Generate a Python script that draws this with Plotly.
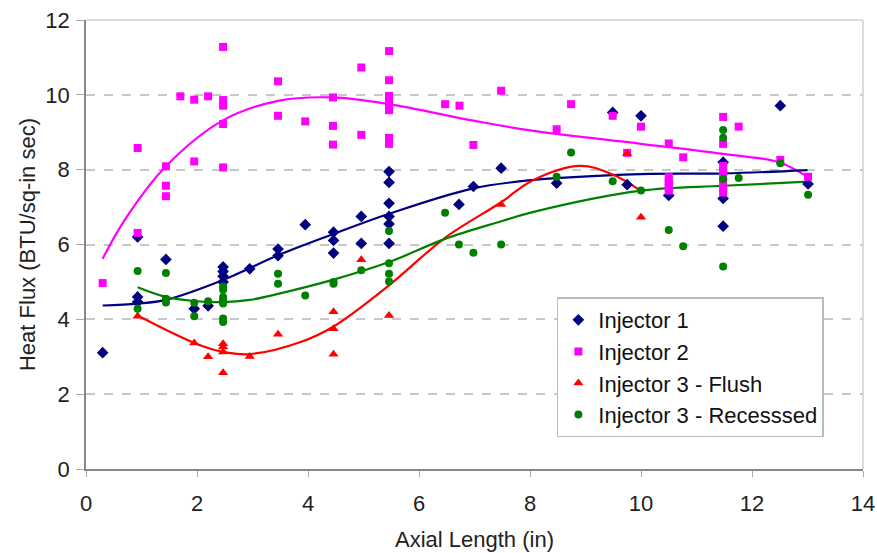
import plotly.graph_objects as go

# ---------------- data ----------------
inj1_x = [0.3, 0.93, 0.93, 0.93, 1.44, 1.95, 2.2, 2.47, 2.47, 2.47, 2.47, 2.95, 3.46, 3.46,
          3.95, 4.46, 4.46, 4.46, 4.96, 4.96, 5.46, 5.46, 5.46, 5.46, 5.46, 5.46,
          6.72, 6.98, 7.48, 8.48, 9.49, 9.75, 10.0, 10.5, 11.48, 11.48, 11.48, 12.51, 13.01]
inj1_y = [3.11, 6.2, 4.6, 4.46, 5.6, 4.28, 4.36, 5.4, 5.28, 5.15, 5.0, 5.35, 5.88, 5.7,
          6.53, 6.33, 6.11, 5.77, 6.75, 6.03, 7.95, 7.66, 7.1, 6.75, 6.55, 6.03,
          7.07, 7.55, 8.04, 7.64, 9.53, 7.6, 9.44, 7.31, 8.2, 7.23, 6.49, 9.71, 7.62]

inj2_x = [0.3, 0.93, 0.93, 1.44, 1.44, 1.44, 1.70, 1.95, 1.95, 2.2,
          2.47, 2.47, 2.47, 2.47, 2.47, 3.46, 3.46, 3.95, 4.45, 4.45, 4.45, 4.96, 4.96,
          5.46, 5.46, 5.46, 5.46, 5.46, 5.46, 5.46, 5.46,
          6.47, 6.73, 6.98, 7.48, 8.48, 8.74, 9.49, 9.75, 10.0,
          10.5, 10.5, 10.5, 10.5, 10.5, 10.5, 10.76,
          11.48, 11.48, 11.48, 11.48, 11.48, 11.48, 11.48, 11.48, 11.76, 12.51, 13.01]
inj2_y = [4.97, 8.58, 6.31, 8.09, 7.57, 7.29, 9.96, 9.87, 8.22, 9.96,
          11.28, 9.86, 9.71, 9.22, 8.06, 10.36, 9.44, 9.29, 9.93, 9.17, 8.67, 10.73, 8.93,
          11.17, 10.39, 9.97, 9.84, 9.71, 9.59, 8.85, 8.69,
          9.75, 9.71, 8.66, 10.11, 9.08, 9.75, 9.44, 8.45, 9.15,
          8.70, 7.8, 7.7, 7.6, 7.5, 7.44, 8.33,
          9.41, 8.69, 8.1, 7.95, 7.8, 7.65, 7.5, 7.39, 9.15, 8.26, 7.81]

inj3f_x = [0.93, 1.95, 2.2, 2.47, 2.47, 2.47, 2.47, 2.95, 3.46, 4.46, 4.46, 4.46,
           4.96, 5.46, 7.48, 9.75, 10.0]
inj3f_y = [4.08, 3.37, 3.0, 3.35, 3.26, 3.13, 2.57, 3.01, 3.6, 4.2, 3.75, 3.07,
           5.59, 4.1, 7.07, 8.43, 6.73]

inj3r_x = [0.93, 0.93, 1.44, 1.44, 1.44, 1.95, 1.95, 2.2,
           2.47, 2.47, 2.47, 2.47, 2.47, 2.47, 2.47, 3.46, 3.46, 3.95, 4.46, 4.46, 4.96,
           5.46, 5.46, 5.46, 5.46, 6.47, 6.72, 6.98, 7.48, 8.48, 8.74, 9.49, 10.0,
           10.5, 10.76, 11.48, 11.48, 11.48, 11.48, 11.76, 12.51, 13.01]
inj3r_y = [5.29, 4.28, 5.24, 4.55, 4.45, 4.44, 4.08, 4.48,
           4.88, 4.79, 4.6, 4.51, 4.42, 4.02, 3.93, 5.22, 4.95, 4.64, 4.95, 5.0, 5.31,
           6.36, 5.5, 5.22, 5.01, 6.85, 6.0, 5.78, 6.0, 7.81, 8.46, 7.69, 7.44,
           6.39, 5.95, 9.06, 8.85, 7.75, 5.41, 7.78, 8.17, 7.33]

# trend lines
trend1_x = [0.3, 0.93, 1.44, 2.47, 3.46, 4.46, 5.46, 6.98, 8.03, 10.0, 11.5, 13.0]
trend1_y = [4.37, 4.42, 4.52, 5.05, 5.71, 6.28, 6.82, 7.5, 7.72, 7.88, 7.9, 7.99]

trend2_x = [0.3, 0.69, 1.44, 2.46, 3.46, 4.45, 5.46, 6.98, 8.0, 10.0, 11.48, 12.48, 13.01]
trend2_y = [5.62, 6.64, 8.09, 9.31, 9.84, 9.93, 9.75, 9.31, 9.05, 8.69, 8.42, 8.2, 7.8]

trend3_x = [0.93, 1.95, 2.47, 2.95, 3.88, 4.46, 5.46, 6.47, 7.48, 8.03, 8.9, 9.49, 10.0]
trend3_y = [4.1, 3.37, 3.13, 3.07, 3.4, 3.81, 4.91, 6.18, 7.13, 7.7, 8.1, 7.87, 7.43]

trend4_x = [0.93, 1.44, 1.95, 2.47, 2.95, 3.46, 4.46, 5.46, 6.47, 7.48, 8.03, 10.0, 11.48, 13.01]
trend4_y = [4.86, 4.6, 4.49, 4.46, 4.52, 4.68, 5.06, 5.53, 6.15, 6.62, 6.86, 7.44, 7.57, 7.68]

x_ticks = [0, 2, 4, 6, 8, 10, 12, 14]
y_ticks = [0, 2, 4, 6, 8, 10, 12]

# ---------------- figure ----------------
NAVY = "#000080"
MAG = "#FF00FF"
RED = "#FF0000"
GRN = "#008000"
FONT = "Liberation Sans, Arial, sans-serif"

fig = go.Figure()

for tx, ty, col in [(trend2_x, trend2_y, MAG), (trend1_x, trend1_y, NAVY),
                    (trend3_x, trend3_y, RED), (trend4_x, trend4_y, GRN)]:
    fig.add_trace(go.Scatter(x=tx, y=ty, mode="lines", showlegend=False, hoverinfo="skip",
                             line=dict(color=col, width=2.2, shape="spline", smoothing=1.0)))

fig.add_trace(go.Scatter(x=inj1_x, y=inj1_y, mode="markers", name="Injector 1",
                         marker=dict(symbol="diamond", size=9, color=NAVY)))
fig.add_trace(go.Scatter(x=inj2_x, y=inj2_y, mode="markers", name="Injector 2",
                         marker=dict(symbol="square", size=8, color=MAG)))
fig.add_trace(go.Scatter(x=inj3f_x, y=inj3f_y, mode="markers", name="Injector 3 - Flush",
                         marker=dict(symbol="triangle-up", size=9, color=RED)))
fig.add_trace(go.Scatter(x=inj3r_x, y=inj3r_y, mode="markers", name="Injector 3 - Recesssed",
                         marker=dict(symbol="circle", size=8, color=GRN)))

fig.update_layout(
    width=877, height=553,
    margin=dict(l=86, r=14, t=20, b=84),
    paper_bgcolor="white", plot_bgcolor="white",
    font=dict(family=FONT, size=22, color="#222222"),
    showlegend=True,
    legend=dict(x=0.606, y=0.382, xanchor="left", yanchor="top",
                bgcolor="white", bordercolor="#bbbbbb", borderwidth=1.5,
                font=dict(size=22, color="#111111"), itemsizing="trace",
                tracegroupgap=0),
    xaxis=dict(range=[0, 14], tickvals=x_ticks, showgrid=False, zeroline=False,
               showline=True, linecolor="#888888", linewidth=1.5, automargin=False,
               ticks="outside", ticklen=6, tickcolor="#aaaaaa", ticklabelstandoff=8,
               title=dict(text="Axial Length (in)", font=dict(size=22), standoff=16)),
    yaxis=dict(range=[0, 12], tickvals=y_ticks, showgrid=True, gridcolor="#c8c8c8",
               griddash="dash", gridwidth=1.5, zeroline=False, automargin=False,
               showline=True, linecolor="#888888", linewidth=1.5,
               ticks="outside", ticklen=8, tickcolor="#aaaaaa", ticklabelstandoff=2,
               title=dict(text="Heat Flux (BTU/sq-in sec)", font=dict(size=22), standoff=4)),
)

# light border on top and right of plot area
fig.add_shape(type="line", xref="x domain", yref="y domain", x0=0, x1=1, y0=1, y1=1,
              line=dict(color="#d0d0d0", width=1.5))
fig.add_shape(type="line", xref="x domain", yref="y domain", x0=1, x1=1, y0=0, y1=1,
              line=dict(color="#d0d0d0", width=1.5))

fig.write_html("out.html")
